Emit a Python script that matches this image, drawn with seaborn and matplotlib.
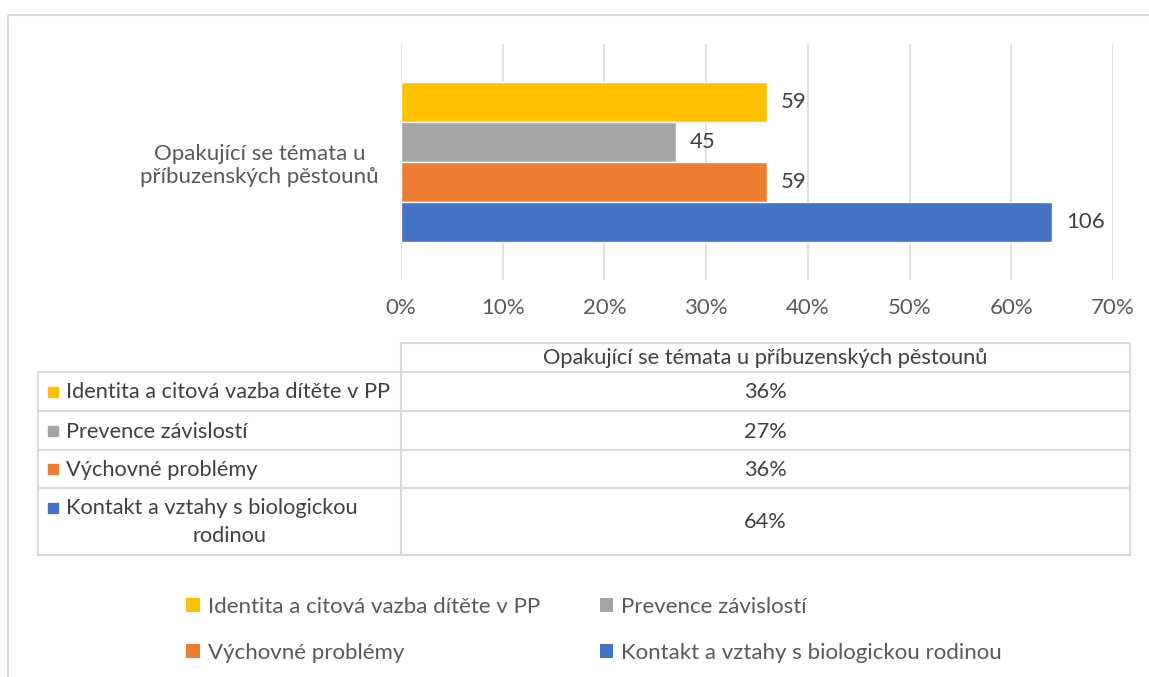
import matplotlib
matplotlib.use("Agg")
import matplotlib.pyplot as plt
import seaborn as sns
import pandas as pd
from matplotlib.patches import Patch, Rectangle

# ---- data ----
category = "Opakující se témata u příbuzenských pěstounů"
category_label = "Opakující se témata u\npříbuzenských pěstounů"
series = ["Identita a citová vazba dítěte v PP", "Prevence závislostí",
          "Výchovné problémy", "Kontakt a vztahy s biologickou rodinou"]
table_labels = ["Identita a citová vazba dítěte v PP", "Prevence závislostí",
                "Výchovné problémy", "Kontakt a vztahy s biologickou\nrodinou"]
percent = [36, 27, 36, 64]
counts = [59, 45, 59, 106]
colors = ["#FFC000", "#A5A5A5", "#ED7D31", "#4472C4"]
xticks = [0, 10, 20, 30, 40, 50, 60, 70]

FONT = ["Lato", "DejaVu Sans"]
TXT = "#595959"
DARK = "#404040"
GRID = "#D9D9D9"
FS = 16
FST = 15.7

sns.set_theme(style="white")
plt.rcParams["font.family"] = FONT

W, H = 1149, 677
fig = plt.figure(figsize=(W / 100, H / 100), dpi=100)

df = pd.DataFrame({"cat": [category_label] * 4, "series": series, "pct": percent})

ax = fig.add_axes([401 / W, 1 - 280 / H, 712 / W, 236 / H])
sns.barplot(data=df, y="cat", x="pct", hue="series", hue_order=series,
            palette=colors, orient="h", width=0.8, saturation=1,
            legend=False, ax=ax)
ax.set_xlim(0, 70)
ax.set_ylim(0.59, -0.59)
ax.set_xticks(xticks)
ax.set_xticklabels([f"{t}%" for t in xticks], color=TXT, fontsize=FS)
ax.tick_params(axis="x", length=0, pad=13)
ax.tick_params(axis="y", length=0, pad=16)
for lab in ax.get_yticklabels():
    lab.set_color(TXT)
    lab.set_fontsize(FS)
    lab.set_multialignment("center")
ax.set_xlabel("")
ax.set_ylabel("")
for s in ax.spines.values():
    s.set_visible(False)
ax.grid(axis="x", color=GRID, linewidth=1.2)
ax.set_axisbelow(True)
for cont, c in zip(ax.containers, counts):
    ax.bar_label(cont, labels=[str(c)], padding=10, color=DARK, fontsize=FS)

# ---- overlay for frame, data table and legend ----
ov = fig.add_axes([0, 0, 1, 1], zorder=-1)
ov.set_xlim(0, W)
ov.set_ylim(H, 0)
ov.axis("off")
ov.add_patch(Rectangle((8, 15), 1200, 700, fill=False, edgecolor=GRID, linewidth=1.5))

tab = fig.add_axes([0, 0, 1, 1])
tab.set_xlim(0, W)
tab.set_ylim(H, 0)
tab.axis("off")
rows = [343, 372, 411, 450, 488, 555]
xl, xm, xr = 38, 401, 1130
lw = 1.5
tab.plot([xm, xr], [rows[0], rows[0]], color=GRID, lw=lw)
for y in rows[1:]:
    tab.plot([xl, xr], [y, y], color=GRID, lw=lw)
tab.plot([xm, xm], [rows[0], rows[-1]], color=GRID, lw=lw)
tab.plot([xr, xr], [rows[0], rows[-1]], color=GRID, lw=lw)
tab.plot([xl, xl], [rows[1], rows[-1]], color=GRID, lw=lw)
tab.text((xm + xr) / 2, (rows[0] + rows[1]) / 2 + 1, category, ha="center", va="center",
         color=DARK, fontsize=FST)
for i, (lab, p, c) in enumerate(zip(table_labels, percent, colors)):
    yc = (rows[i + 1] + rows[i + 2]) / 2
    tab.text((xm + xr) / 2, yc + 1, f"{p}%", ha="center", va="center", color=DARK, fontsize=FST)
    if "\n" in lab:
        first, second = lab.split("\n")
        tab.add_patch(Rectangle((48, yc - 19), 10, 10, color=c))
        tab.text(66, yc - 14, first, ha="left", va="center", color=DARK, fontsize=FST)
        tab.text((xl + xm) / 2 + 10, yc + 14, second, ha="center", va="center", color=DARK, fontsize=FST)
    else:
        tab.add_patch(Rectangle((48, yc - 5), 10, 10, color=c))
        tab.text(66, yc + 1, lab, ha="left", va="center", color=DARK, fontsize=FST)

handles = [Patch(facecolor=c, edgecolor="none", label=s) for c, s in zip(colors, series)]
order = [0, 2, 1, 3]  # row-wise reading order in a 2-column legend
leg = fig.legend(handles=[handles[k] for k in order], ncol=2, loc="center",
                 bbox_to_anchor=(594 / W, 1 - 630 / H),
                 frameon=False, fontsize=FS, handlelength=0.6, handleheight=0.6,
                 handletextpad=0.35, columnspacing=2.7, labelspacing=1.15, labelcolor=TXT)

fig.savefig("out.png", dpi=100, facecolor="white")
